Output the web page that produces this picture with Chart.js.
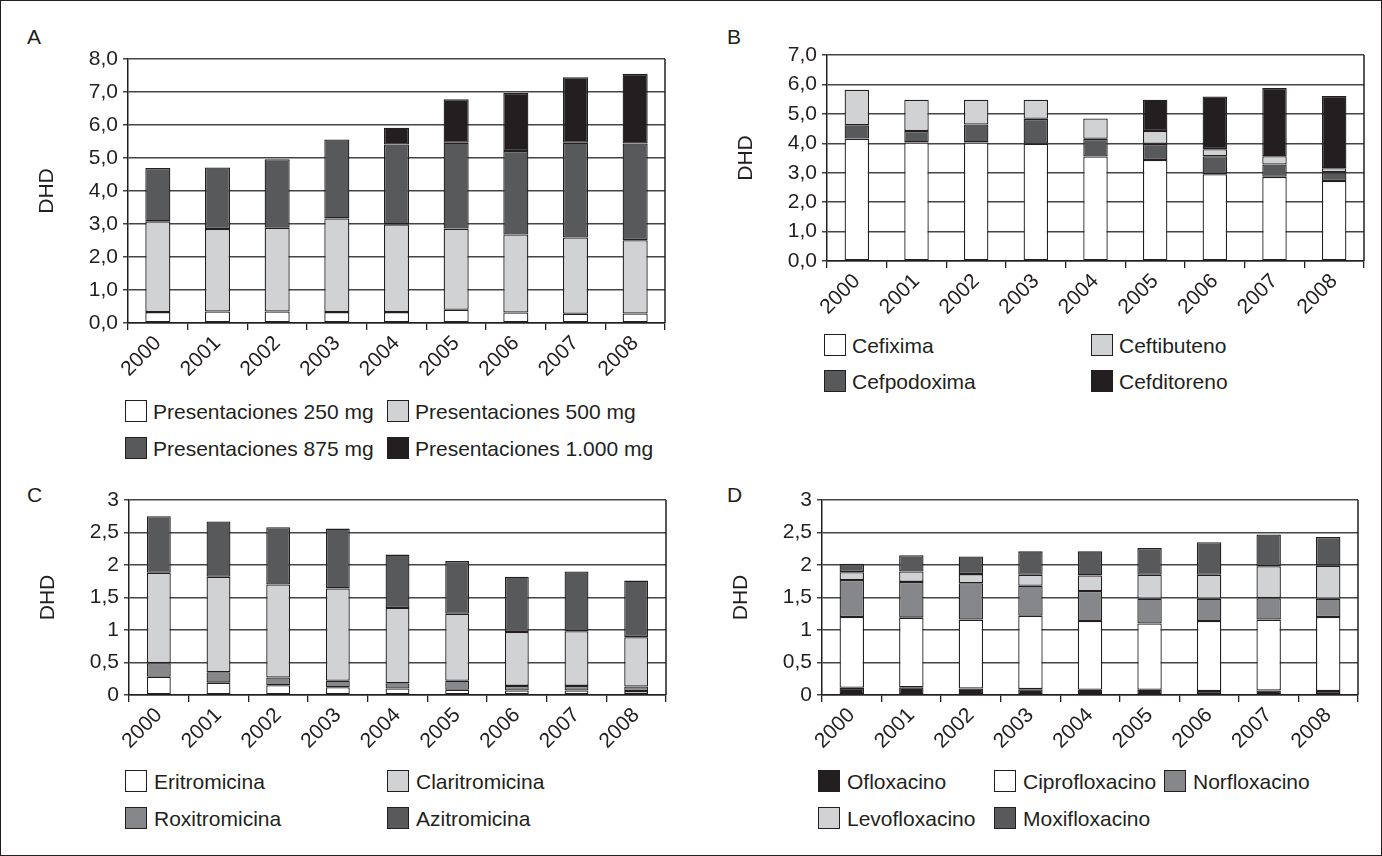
<!DOCTYPE html>
<html>
<head>
<meta charset="utf-8">
<script src="https://cdn.jsdelivr.net/npm/chart.js@4.4.1/dist/chart.umd.min.js"></script>
<style>
  html, body { margin:0; padding:0; background:#fff; }
  body { width:1382px; height:856px; position:relative; overflow:hidden; font-family:"Liberation Sans", Arial, sans-serif; color:#231f20; }
  #frame { position:absolute; left:0; top:0; width:1380px; height:854px; border:1px solid #231f20; }
  .plabel { position:absolute; font-size:21px; line-height:21px; }
  canvas { position:absolute; }
  .leg { position:absolute; font-size:21px; line-height:23px; white-space:nowrap; }
  .leg .box { position:absolute; left:0; top:0; width:20px; height:20px; border:1.5px solid #231f20; }
</style>
</head>
<body>
<div id="frame"></div>
<div class="plabel" style="left:27px;top:26px">A</div>
<div class="plabel" style="left:727px;top:26px">B</div>
<div class="plabel" style="left:27px;top:484px">C</div>
<div class="plabel" style="left:727px;top:484px">D</div>
<canvas id="cA"></canvas>
<canvas id="cB"></canvas>
<canvas id="cC"></canvas>
<canvas id="cD"></canvas>
<div id="legends"></div>
<script>
// ---------- data ----------
const years = ['2000','2001','2002','2003','2004','2005','2006','2007','2008'];

// Panel A (DHD)
const aSeriesNames = ['Presentaciones 250 mg','Presentaciones 500 mg','Presentaciones 875 mg','Presentaciones 1.000 mg'];
const a250  = [0.33,0.35,0.35,0.33,0.33,0.40,0.32,0.28,0.29];
const a500  = [2.75,2.50,2.54,2.84,2.66,2.46,2.36,2.31,2.22];
const a875  = [1.62,1.86,2.07,2.39,2.42,2.60,2.53,2.87,2.93];
const a1000 = [null,null,null,null,0.51,1.32,1.76,1.99,2.11];
const aTicks = ['0,0','1,0','2,0','3,0','4,0','5,0','6,0','7,0','8,0'];

// Panel B
const bSeriesNames = ['Cefixima','Cefpodoxima','Ceftibuteno','Cefditoreno'];
const bCefixima    = [4.16,4.03,4.03,3.99,3.55,3.43,2.95,2.86,2.72];
const bCefpodoxima = [0.45,0.39,0.61,0.84,0.60,0.55,0.61,0.42,0.29];
const bCeftibuteno = [1.21,1.06,0.84,0.65,0.69,0.44,0.24,0.28,0.14];
const bCefditoreno = [null,null,null,null,null,1.06,1.79,2.32,2.46];
const bTicks = ['0,0','1,0','2,0','3,0','4,0','5,0','6,0','7,0'];
const bLegendOrder = ['Cefixima','Ceftibuteno','Cefpodoxima','Cefditoreno'];

// Panel C
const cSeriesNames = ['Eritromicina','Roxitromicina','Claritromicina','Azitromicina'];
const cEritro = [0.28,0.19,0.15,0.12,0.10,0.08,0.07,0.07,0.06];
const cRoxi   = [0.21,0.16,0.12,0.10,0.08,0.14,0.07,0.07,0.07];
const cClari  = [1.39,1.47,1.43,1.42,1.16,1.03,0.83,0.84,0.76];
const cAzi    = [0.87,0.85,0.88,0.92,0.82,0.81,0.85,0.92,0.87];
const cdTicks = ['0','0,5','1','1,5','2','2,5','3'];
const cLegendOrder = ['Eritromicina','Claritromicina','Roxitromicina','Azitromicina'];

// Panel D
const dSeriesNames = ['Ofloxacino','Ciprofloxacino','Norfloxacino','Levofloxacino','Moxifloxacino'];
const dOflox = [0.11,0.12,0.10,0.09,0.08,0.08,0.06,0.07,0.06];
const dCipro = [1.09,1.07,1.06,1.13,1.06,1.02,1.08,1.09,1.14];
const dNorf  = [0.57,0.55,0.56,0.46,0.46,0.38,0.34,0.33,0.28];
const dLevo  = [0.12,0.16,0.14,0.17,0.24,0.37,0.37,0.49,0.51];
const dMoxi  = [0.13,0.25,0.27,0.36,0.37,0.41,0.50,0.49,0.44];
const dLegendOrder = ['Ofloxacino','Ciprofloxacino','Norfloxacino','Levofloxacino','Moxifloxacino'];

// ---------- styles ----------
const WHITE = '#ffffff', LIGHT = '#d1d2d4', MID = '#85878a', DARK = '#58595b', BLACK = '#231f20';
const INK = '#231f20';
const FONT = '"Liberation Sans", Arial, sans-serif';
const FS = 21;
const Y_W = 110, PT = 20, PR = 10, X_H = 72;

const rightFrame = {
  id: 'rightFrame',
  afterDatasetsDraw(chart) {
    const {ctx, chartArea} = chart;
    ctx.save();
    ctx.strokeStyle = INK; ctx.lineWidth = 1.5;
    ctx.beginPath();
    ctx.moveTo(chartArea.right, chartArea.top);
    ctx.lineTo(chartArea.right, chartArea.bottom);
    ctx.stroke();
    ctx.restore();
  }
};

function makePanel(id, plot, names, seriesArr, colors, yMax, yStep, tickLabels, barPct) {
  const cv = document.getElementById(id);
  const w = (plot.r - plot.l) + Y_W + PR;
  const h = (plot.b - plot.t) + PT + X_H;
  cv.width = w; cv.height = h;
  cv.style.left = (plot.l - Y_W) + 'px';
  cv.style.top = (plot.t - PT) + 'px';
  cv.style.width = w + 'px'; cv.style.height = h + 'px';
  const datasets = names.map((n, i) => ({
    label: n, data: seriesArr[i], backgroundColor: colors[i],
    borderColor: INK, borderWidth: 1.3, borderSkipped: false,
    categoryPercentage: 1.0, barPercentage: barPct
  }));
  const lh = FS * 1.2;
  return new Chart(cv, {
    type: 'bar',
    data: { labels: years, datasets },
    options: {
      responsive: false, animation: false, devicePixelRatio: 1,
      layout: { padding: { top: PT, right: PR, left: 0, bottom: 0 } },
      plugins: { legend: { display: false }, tooltip: { enabled: false } },
      scales: {
        x: {
          stacked: true, offset: true,
          grid: { offset: true, drawOnChartArea: false, drawTicks: true, tickLength: 7, color: INK, lineWidth: 1.3 },
          border: { display: true, color: INK, width: 1.5 },
          ticks: { autoSkip: false, minRotation: 45, maxRotation: 45, color: INK, font: { family: FONT, size: FS }, padding: 1 },
          afterFit(s) { s.height = X_H; }
        },
        y: {
          stacked: true, min: 0, max: yMax,
          ticks: { stepSize: yStep, color: INK, font: { family: FONT, size: FS }, padding: 5,
                   callback: (v, i) => tickLabels[i] },
          grid: { color: '#454545', lineWidth: 1.5, tickLength: 5, drawTicks: true },
          border: { display: true, color: INK, width: 1.5 },
          title: { display: true, text: 'DHD', color: INK, font: { family: FONT, size: FS },
                   padding: { top: (Y_W - 81) - lh / 2, bottom: 0 } },
          afterFit(s) { s.width = Y_W; }
        }
      }
    },
    plugins: [rightFrame]
  });
}

function makeLegend(chart, order, cols, rows, textDx) {
  const host = document.getElementById('legends');
  order.forEach((name, k) => {
    const ds = chart.data.datasets.find(d => d.label === name);
    const col = k % cols.length, row = Math.floor(k / cols.length);
    const item = document.createElement('div');
    item.className = 'leg';
    item.style.left = cols[col] + 'px';
    item.style.top = rows[row] + 'px';
    const box = document.createElement('div');
    box.className = 'box';
    box.style.background = ds.backgroundColor;
    const txt = document.createElement('span');
    txt.style.position = 'absolute';
    txt.style.left = textDx + 'px';
    txt.style.top = '0px';
    txt.textContent = ds.label;
    item.appendChild(box); item.appendChild(txt);
    host.appendChild(item);
  });
}

const chA = makePanel('cA', {l:128, r:665, t:59, b:323}, aSeriesNames,
  [a250, a500, a875, a1000], [WHITE, LIGHT, DARK, BLACK], 8, 1, aTicks, 0.42);
const chB = makePanel('cB', {l:827, r:1364, t:55, b:261}, bSeriesNames,
  [bCefixima, bCefpodoxima, bCeftibuteno, bCefditoreno], [WHITE, DARK, LIGHT, BLACK], 7, 1, bTicks, 0.41);
const chC = makePanel('cC', {l:129, r:666, t:500, b:695}, cSeriesNames,
  [cEritro, cRoxi, cClari, cAzi], [WHITE, MID, LIGHT, DARK], 3, 0.5, cdTicks, 0.40);
const chD = makePanel('cD', {l:822, r:1358, t:500, b:695}, dSeriesNames,
  [dOflox, dCipro, dNorf, dLevo, dMoxi], [BLACK, WHITE, MID, LIGHT, DARK], 3, 0.5, cdTicks, 0.41);

makeLegend(chA, aSeriesNames, [125, 387], [400, 437], 28);
makeLegend(chB, bLegendOrder, [824, 1091], [334, 370], 28);
makeLegend(chC, cLegendOrder, [125, 387], [770, 807], 29);
makeLegend(chD, dLegendOrder, [818, 994, 1164], [770, 807], 29);
</script>
</body>
</html>
